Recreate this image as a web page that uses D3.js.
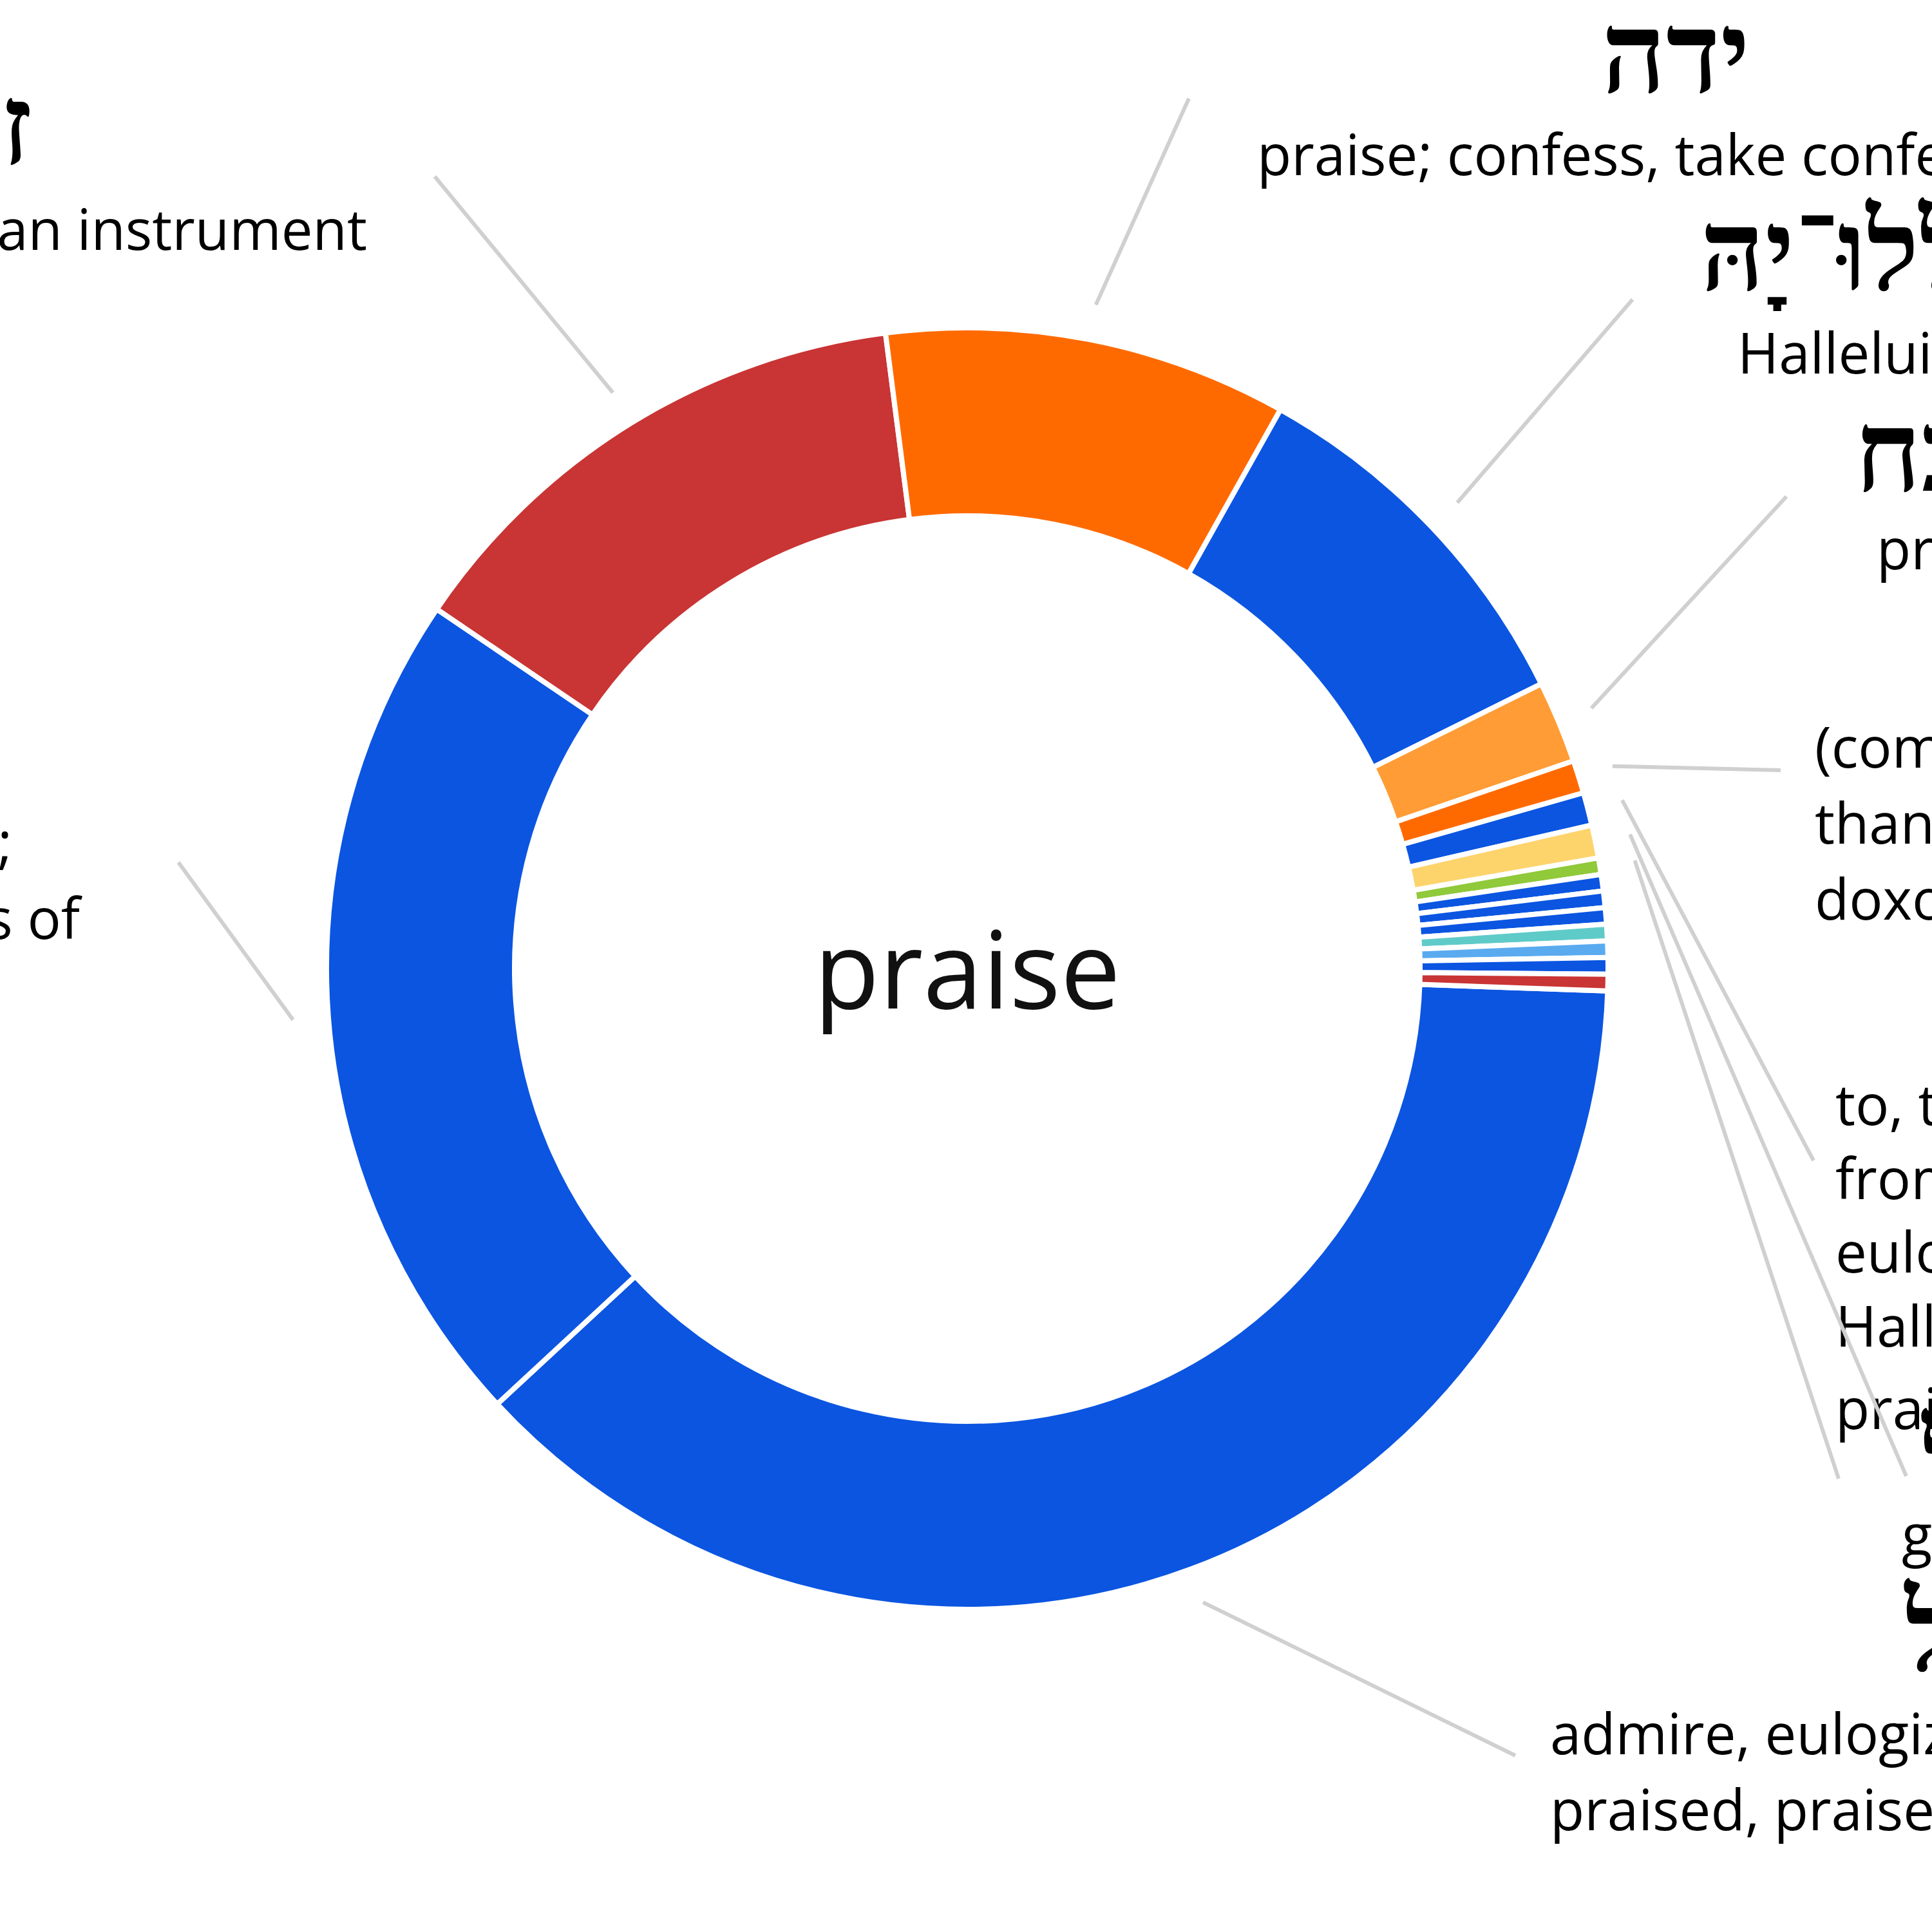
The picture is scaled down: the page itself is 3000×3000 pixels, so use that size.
<!DOCTYPE html>
<html>
<head>
<meta charset="utf-8">
<script src="https://cdn.jsdelivr.net/npm/d3@7/dist/d3.min.js"></script>
<style>
  html, body { margin: 0; padding: 0; background: #ffffff; }
  svg { display: block; }
</style>
</head>
<body>
<script>
// ---------------- data ----------------
const centerLabel = "praise";

const categories = [
  "halal", "barak", "zamar", "yadah", "hallelujah", "shabach",
  "todah", "lemma7", "lemma8", "lemma9", "lemma10", "lemma11",
  "lemma12", "lemma13", "lemma14", "lemma15", "lemma16"
];

const values = [90.5, 51.5, 32.5, 24.5, 23, 5, 2, 2, 2, 1, 1, 1, 1, 1, 1, 1, 1];

const sliceColors = [
  "#0b55e1", "#0b55e1", "#c93434", "#ff6a00", "#0b55e1", "#ff9c35",
  "#ff6a00", "#0b55e1", "#fdd36c", "#90c93a", "#0b55e1", "#0b55e1",
  "#0b55e1", "#5fcbc9", "#5aaaf0", "#0b55e1", "#c93434"
];

const headwords = [
  "הָלַל", "בָּרַךְ", "זמר", "ידה", "הַלְלוּ־יָהּ", "שבח",
  "תּוֹדָה", "", "", "הִלּוּל", "", "", "", "", "", "", ""
];

const glossLines = [
  ["admire, eulogize, extol, glorify, praise;", "praised, praiseworthy"],
  ["bless, kneel, greet, salute;", "speak the praises of"],
  ["sing, make music, play an instrument"],
  ["praise; confess, take confession"],
  ["Halleluiah"],
  ["praise"],
  ["(commendation),", "thanksgiving,", "doxology"],
  ["to, to praise", "from praise"],
  ["give praise"],
  ["eulogy", "Hallelujah", "praise"],
  [], [], [], [], [], [], []
];

// ---------------- layout (positions only) ----------------
const W = 3000, H = 3000;
const cx = 1502, cy = 1504;
const rOuter = 995, rInner = 703, rConnector = 1050;
const startDeg = 92.0;

const labelLayout = [
  { i: 2, end: [675, 274],   word: { x: 50,   y: 255,  a: "end" },    lines: [{ x: 570, y: 388, a: "end" }] },
  { i: 3, end: [1846, 153],  word: { x: 2602, y: 143,  a: "middle" }, lines: [{ x: 1952, y: 272, a: "start" }] },
  { i: 4, end: [2535, 465],  word: { x: 2640, y: 450,  a: "start" },  lines: [{ x: 2698, y: 580, a: "start" }] },
  { i: 5, end: [2774, 771],  word: { x: 2880, y: 762,  a: "start" },  lines: [{ x: 2914, y: 884, a: "start" }] },
  { i: 6, end: [2765, 1196], word: null, lines: [{ x: 2818, y: 1192, a: "start" }, { x: 2818, y: 1310, a: "start" }, { x: 2818, y: 1428, a: "start" }] },
  { i: 7, end: [2816, 1802], word: null, lines: [{ x: 2850, y: 1747, a: "start" }, { x: 2850, y: 1862, a: "start" }] },
  { i: 8, end: [2960, 2292], word: null, lines: [{ x: 2953, y: 2415, a: "start" }] },
  { i: 9, end: [2855, 2296], word: { x: 2985, y: 2330, a: "start" }, lines: [{ x: 2850, y: 1976, a: "start" }, { x: 2850, y: 2091, a: "start" }, { x: 2850, y: 2219, a: "start" }] },
  { i: 0, end: [2353, 2726], word: { x: 2958, y: 2594, a: "start" },  lines: [{ x: 2407, y: 2724, a: "start" }, { x: 2407, y: 2842, a: "start" }] },
  { i: 1, end: [277, 1339],  word: null, lines: [{ x: 19, y: 1340, a: "end" }, { x: 124, y: 1458, a: "end" }] }
];

const glossFont = "'Open Sans', 'Noto Sans', sans-serif";
const glossSize = 87;
const hebFont = "'Liberation Serif', 'DejaVu Serif', 'DejaVu Sans', serif";
const hebSize = 175;

// ---------------- drawing ----------------
const svg = d3.select("body").append("svg")
  .attr("width", W).attr("height", H)
  .attr("viewBox", `0 0 ${W} ${H}`);

svg.append("rect").attr("width", W).attr("height", H).attr("fill", "#ffffff");

const a0 = startDeg * Math.PI / 180;
const pie = d3.pie().sort(null).value(d => d)
  .startAngle(a0).endAngle(a0 + 2 * Math.PI);
const arcs = pie(values);

const arc = d3.arc().innerRadius(rInner).outerRadius(rOuter);

const g = svg.append("g").attr("transform", `translate(${cx},${cy})`);
g.selectAll("path.slice")
  .data(arcs)
  .join("path")
  .attr("class", "slice")
  .attr("d", arc)
  .attr("fill", (d, i) => sliceColors[i])
  .attr("stroke", "#ffffff")
  .attr("stroke-width", 8)
  .attr("stroke-linejoin", "round");

// center label
svg.append("text")
  .attr("x", cx).attr("y", 1566)
  .attr("text-anchor", "middle")
  .attr("font-family", glossFont)
  .attr("font-size", 166)
  .attr("fill", "#111")
  .text(centerLabel);

// labels
const labels = svg.append("g");
labelLayout.forEach(L => {
  if (L.word && headwords[L.i]) {
    labels.append("text")
      .attr("x", L.word.x).attr("y", L.word.y)
      .attr("text-anchor", L.word.a)
      .attr("font-family", hebFont)
      .attr("font-weight", 700)
      .attr("font-size", hebSize)
      .attr("fill", "#000")
      .text(headwords[L.i]);
  }
  L.lines.forEach((ln, k) => {
    const t = glossLines[L.i][k];
    if (!t) return;
    labels.append("text")
      .attr("x", ln.x).attr("y", ln.y)
      .attr("text-anchor", ln.a)
      .attr("font-family", glossFont)
      .attr("font-size", glossSize)
      .attr("fill", "#000")
      .text(t);
  });
});

// connectors (start from each slice's mid-angle)
const conn = svg.append("g");
labelLayout.forEach(L => {
  const d = arcs[L.i];
  const m = (d.startAngle + d.endAngle) / 2;
  const x0 = cx + rConnector * Math.sin(m);
  const y0 = cy - rConnector * Math.cos(m);
  conn.append("line")
    .attr("x1", x0).attr("y1", y0)
    .attr("x2", L.end[0]).attr("y2", L.end[1])
    .attr("stroke", "#d0d0d0")
    .attr("stroke-width", 6);
});
</script>
</body>
</html>
